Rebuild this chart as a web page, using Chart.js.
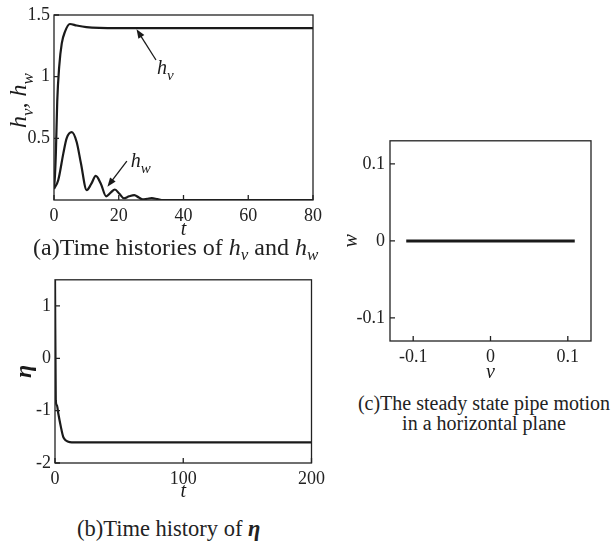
<!DOCTYPE html>
<html>
<head>
<meta charset="utf-8">
<script src="https://cdn.jsdelivr.net/npm/chart.js@4.4.0/dist/chart.umd.min.js"></script>
<style>
  body { margin: 0; background: #fff; width: 613px; height: 542px; position: relative; overflow: hidden;
         font-family: "Liberation Serif", serif; color: #222; }
  .panel { position: absolute; }
  .cap { position: absolute; white-space: nowrap; }
  .cap sub { vertical-align: -5px; line-height: 0; }
</style>
</head>
<body>
<div class="panel" style="left:0;top:0"><canvas id="chartA" width="330" height="250"></canvas></div>
<div class="panel" style="left:0;top:265px"><canvas id="chartB" width="330" height="240"></canvas></div>
<div class="panel" style="left:340px;top:125px"><canvas id="chartC" width="273" height="265"></canvas></div>

<div class="cap" style="left:33px;top:235px;font-size:24px;line-height:24px">(a)Time histories of <i>h<sub style="font-size:17px">v</sub></i> and <i>h<sub style="font-size:17px">w</sub></i></div>
<div class="cap" style="left:77px;top:517px;font-size:22.5px;line-height:24px">(b)Time history of <b><i>η</i></b></div>
<div class="cap" style="left:334px;top:393px;width:300px;text-align:center;font-size:20px;line-height:20px">(c)The steady state pipe motion<br>in a horizontal plane</div>

<script>
// (a) time histories
const tHv = [0, 0.3, 0.6, 1.0, 1.6, 2.4, 3.4, 4.9, 7, 10, 14, 20, 80];
const hv  = [0.09, 0.2, 0.4, 0.8, 1.08, 1.27, 1.365, 1.427, 1.415, 1.402, 1.395, 1.393, 1.393];
const tHw = [0, 1.3, 2.9, 3.9, 5.5, 7, 8.3, 10.1, 11.5, 12.9, 14.5, 16.1, 17.5, 18.8, 20.2, 21.6,
             23.2, 24.8, 26.2, 27.4, 28.8, 30.2, 32, 33.7, 40, 80];
const hw  = [0.09, 0.16, 0.38, 0.5, 0.55, 0.47, 0.3, 0.08, 0.13, 0.195, 0.13, 0.03, 0.06, 0.085, 0.05, 0.014,
             0.03, 0.04, 0.02, 0.005, 0.01, 0.015, 0.007, 0, 0, 0];
const xTicksA = [0, 20, 40, 60, 80];
const yTicksA = [0.5, 1, 1.5];

// (b) eta
const tEta = [0, 0.6, 1.5, 2.6, 4.5, 6.4, 8.5, 11.5, 20, 200];
const eta  = [1.5, -0.8, -0.9, -1.06, -1.3, -1.5, -1.57, -1.6, -1.607, -1.607];
const xTicksB = [0, 100, 200];
const yTicksB = [-2, -1, 0, 1];

// (c) phase plane
const vC = [-0.109, 0.109];
const wC = [0, 0];
const xTicksC = [-0.1, 0, 0.1];
const yTicksC = [-0.1, 0, 0.1];

const SERIF = '"Liberation Serif", serif';
const INK = '#1a1a1a';
const pts = (xs, ys) => xs.map((x, i) => ({ x: x, y: ys[i] }));
const setTicks = arr => s => { s.ticks = arr.map(v => ({ value: v })); };

// box round the plot area and short inward tick marks
const frame = {
    id: 'frame',
    afterDatasetsDraw(chart, args, opts) {
        const { ctx, chartArea: a, scales: { x, y } } = chart;
        ctx.save();
        ctx.strokeStyle = '#222';
        ctx.lineWidth = 1.3;
        ctx.strokeRect(a.left, a.top, a.right - a.left, a.bottom - a.top);
        ctx.beginPath();
        x.ticks.forEach(t => {
            const px = x.getPixelForValue(t.value);
            ctx.moveTo(px, a.bottom);
            ctx.lineTo(px, a.bottom - opts.len);
        });
        y.ticks.forEach(t => {
            const py = y.getPixelForValue(t.value);
            ctx.moveTo(a.left, py);
            ctx.lineTo(a.left + opts.len, py);
        });
        ctx.stroke();
        ctx.restore();
    }
};

function drawSub(ctx, x, y, parts, size, subSize) {
    // parts: [text, isSub] pairs, drawn left to right from (x, y) on the baseline
    let cx = x;
    parts.forEach(([txt, sub]) => {
        ctx.font = 'italic ' + (sub ? subSize : size) + 'px ' + SERIF;
        ctx.fillText(txt, cx, sub ? y + size * 0.3 : y);
        cx += ctx.measureText(txt).width;
    });
}

function drawArrow(ctx, x0, y0, x1, y1) {
    const ang = Math.atan2(y1 - y0, x1 - x0);
    ctx.beginPath();
    ctx.moveTo(x0, y0);
    ctx.lineTo(x1 - 6 * Math.cos(ang), y1 - 6 * Math.sin(ang));
    ctx.stroke();
    ctx.beginPath();
    ctx.moveTo(x1, y1);
    ctx.lineTo(x1 - 9 * Math.cos(ang) + 3.5 * Math.sin(ang), y1 - 9 * Math.sin(ang) - 3.5 * Math.cos(ang));
    ctx.lineTo(x1 - 9 * Math.cos(ang) - 3.5 * Math.sin(ang), y1 - 9 * Math.sin(ang) + 3.5 * Math.cos(ang));
    ctx.closePath();
    ctx.fill();
}

// curve labels of panel (a), in data units
const notesA = [
    { label: 'v', at: [31.8, 1.022], tail: [31.5, 1.135], tip: [25.5, 1.384] },
    { label: 'w', at: [23.7, 0.27], tail: [22.5, 0.316], tip: [16.5, 0.108] }
];

const notes = {
    id: 'notes',
    afterDraw(chart) {
        const { ctx, scales: { x, y } } = chart;
        ctx.save();
        ctx.fillStyle = INK;
        ctx.strokeStyle = INK;
        ctx.lineWidth = 1.3;
        ctx.textBaseline = 'alphabetic';
        notesA.forEach(n => {
            drawArrow(ctx, x.getPixelForValue(n.tail[0]), y.getPixelForValue(n.tail[1]),
                      x.getPixelForValue(n.tip[0]), y.getPixelForValue(n.tip[1]));
            drawSub(ctx, x.getPixelForValue(n.at[0]), y.getPixelForValue(n.at[1]),
                    [['h', false], [n.label, true]], 20, 15);
        });
        // rotated y axis title
        ctx.translate(26, 128);
        ctx.rotate(-Math.PI / 2);
        drawSub(ctx, 0, 0, [['h', false], ['v', true], [', ', false], ['h', false], ['w', true]], 24, 17);
        ctx.restore();
    }
};

const tickFont = { family: SERIF, size: 18 };
const titleFont = { family: SERIF, size: 20, style: 'italic' };

function axis(min, max, ticks, fit, pad, title) {
    return {
        type: 'linear', min: min, max: max,
        afterBuildTicks: setTicks(ticks),
        afterFit: fit,
        grid: { display: false, drawTicks: false },
        border: { display: false },
        ticks: { color: '#222', font: tickFont, padding: pad, autoSkip: false, maxRotation: 0,
                 callback: v => String(v) },
        title: title || { display: false }
    };
}

function lineSet(data, width) {
    return {
        data: data, borderColor: INK, borderWidth: width, pointRadius: 0,
        cubicInterpolationMode: 'monotone', fill: false
    };
}

const common = {
    responsive: false,
    animation: false,
    events: [],
    plugins: { legend: { display: false }, tooltip: { enabled: false }, frame: { len: 5 } }
};

// Time histories of h_v and h_w
new Chart(document.getElementById('chartA'), {
    type: 'line',
    data: { datasets: [lineSet(pts(tHv, hv), 2.2), lineSet(pts(tHw, hw), 2.2)] },
    options: Object.assign({}, common, {
        layout: { padding: { left: 0, top: 15, right: 17, bottom: 0 } },
        scales: {
            x: axis(0, 80, xTicksA, s => { s.height = 50; }, 5,
                    { display: true, text: 't', color: INK, font: titleFont, padding: { top: 0, bottom: 8 } }),
            y: axis(0, 1.5, yTicksA, s => { s.width = 54; }, 4)
        }
    }),
    plugins: [frame, notes]
});

// Time history of eta
new Chart(document.getElementById('chartB'), {
    type: 'line',
    data: { datasets: [lineSet(pts(tEta, eta), 2.2)] },
    options: Object.assign({}, common, {
        layout: { padding: { left: 0, top: 13, right: 16, bottom: 0 } },
        scales: {
            x: axis(0, 200, xTicksB, s => { s.height = 42; }, 5,
                    { display: true, text: 't', color: INK, font: titleFont, padding: { top: 0, bottom: 1 } }),
            y: axis(-2, 1.5, yTicksB, s => { s.width = 55; }, 4,
                    { display: true, text: 'η', color: INK, font: { family: SERIF, size: 24, style: 'italic', weight: 'bold' },
                      padding: { top: 10, bottom: 0 } })
        }
    }),
    plugins: [frame]
});

// Steady state motion in the v-w plane
new Chart(document.getElementById('chartC'), {
    type: 'line',
    data: { datasets: [lineSet(pts(vC, wC), 3)] },
    options: Object.assign({}, common, {
        layout: { padding: { left: 0, top: 15, right: 22, bottom: 0 } },
        scales: {
            x: axis(-0.13, 0.13, xTicksC, s => { s.height = 49; }, 5,
                    { display: true, text: 'v', color: INK, font: titleFont, padding: { top: 0, bottom: 5 } }),
            y: axis(-0.13, 0.13, yTicksC, s => { s.width = 50; }, 5,
                    { display: true, text: 'w', color: INK, font: titleFont, padding: { top: 0, bottom: 0 } })
        }
    }),
    plugins: [frame]
});
</script>
</body>
</html>
